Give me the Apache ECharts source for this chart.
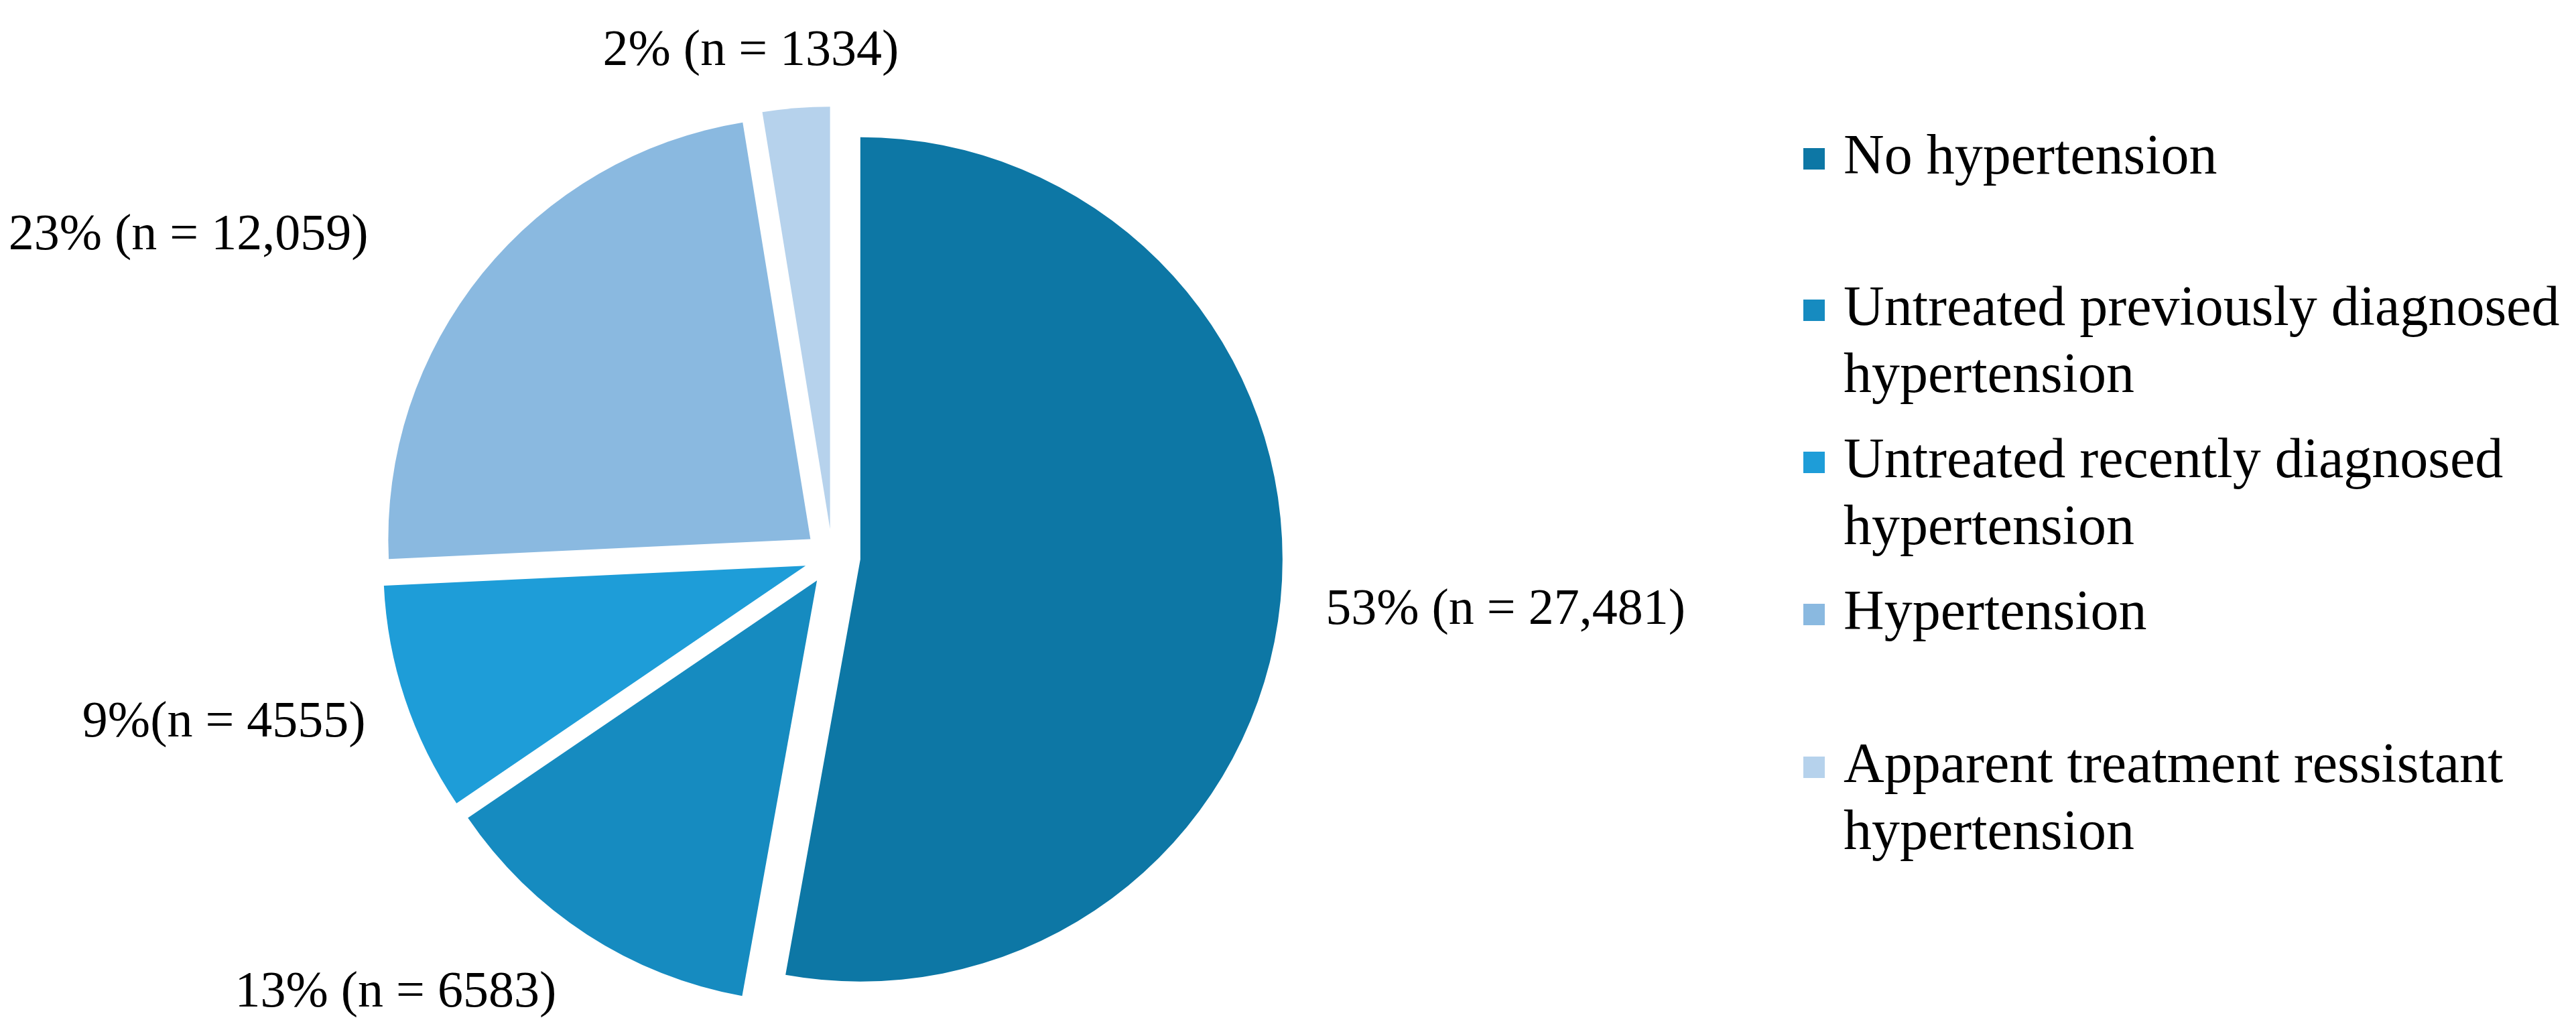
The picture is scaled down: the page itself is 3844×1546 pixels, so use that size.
<!DOCTYPE html>
<html>
<head>
<meta charset="utf-8">
<title>Hypertension status</title>
<script src="https://cdn.jsdelivr.net/npm/echarts@6/dist/echarts.min.js"></script>
<style>
    html, body { margin: 0; padding: 0; background: #fff; }
    #chart { width: 3844px; height: 1546px; }
</style>
</head>
<body>
<div id="chart"></div>
<script>
// categories, in drawing order (clockwise from 12 o'clock)
var categories = [
    'No hypertension',
    'Untreated previously diagnosed hypertension',
    'Untreated recently diagnosed hypertension',
    'Hypertension',
    'Apparent treatment ressistant hypertension'
];
// counts per group
var counts = [27481, 6583, 4555, 12059, 1334];
// slice labels as printed
var sliceLabels = [
    '53% (n = 27,481)',
    '13% (n = 6583)',
    '9%(n = 4555)',
    '23% (n = 12,059)',
    '2% (n = 1334)'
];
// legend text, wrapped like the figure
var legendText = [
    ['No hypertension'],
    ['Untreated previously diagnosed', 'hypertension'],
    ['Untreated recently diagnosed', 'hypertension'],
    ['Hypertension'],
    ['Apparent treatment ressistant', 'hypertension']
];

var colors = ['#0d77a5', '#168bc0', '#1e9dd8', '#8ab9e0', '#b6d2ec'];
var FONT = '"Liberation Serif", "Times New Roman", serif';

// label nudges (px) from the library's default outside position
var labelShift = [[42, 18], [-30, 71], [-35, 29], [-150, -43], [160, -64]];
// legend rows: marker centre y
var legendRowY = [237, 463, 690, 917, 1145];
var LINE_H = 100;

var chart = echarts.init(document.getElementById('chart'), null, { renderer: 'canvas' });

var pieData = categories.map(function (name, i) {
    return { name: name, value: counts[i], selected: true, itemStyle: { color: colors[i] } };
});

// one legend per row so the marker sits on the first text line
var legends = categories.map(function (name, i) {
    var lines = legendText[i];
    // a leading empty line keeps the first real line centred on the marker
    var text = lines.length > 1 ? '\n' + lines.join('\n') : lines[0];
    return {
        orient: 'vertical',
        left: 2691,
        top: legendRowY[i] - (lines.length > 1 ? 1.5 : 0.5) * LINE_H,
        padding: 0,
        itemWidth: 32,
        itemHeight: 32,
        icon: 'rect',
        selectedMode: false,
        data: [name],
        formatter: function () { return text; },
        textStyle: {
            fontFamily: FONT,
            fontSize: 84,
            lineHeight: LINE_H,
            color: '#000',
            padding: [0, 0, 0, 23]
        }
    };
});

var option = {
    backgroundColor: '#fff',
    animation: false,
    color: colors,
    legend: legends,
    series: [{
        type: 'pie',
        center: [1242, 831],
        radius: 630,
        startAngle: 90,
        clockwise: true,
        selectedMode: 'multiple',
        selectedOffset: 42,
        avoidLabelOverlap: false,
        emphasis: { disabled: true },
        itemStyle: { borderWidth: 0 },
        label: {
            show: true,
            position: 'outside',
            fontFamily: FONT,
            fontSize: 76,
            color: '#000',
            distanceToLabelLine: 5,
            formatter: function (p) { return sliceLabels[p.dataIndex]; }
        },
        labelLine: { show: false, length: 20, length2: 0 },
        labelLayout: function (p) {
            return { dx: labelShift[p.dataIndex][0], dy: labelShift[p.dataIndex][1] };
        },
        data: pieData
    }]
};

chart.setOption(option);
</script>
</body>
</html>
